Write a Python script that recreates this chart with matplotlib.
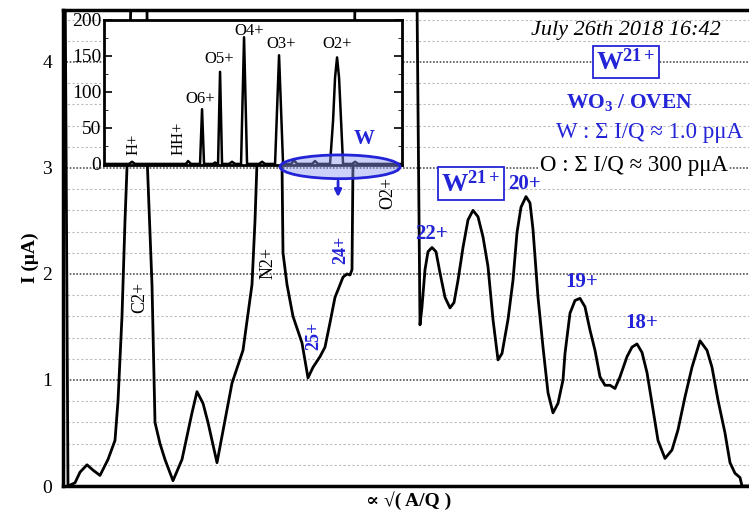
import matplotlib
matplotlib.use("Agg")
import matplotlib.pyplot as plt
from matplotlib.patches import Ellipse

# main spectrum, x in arbitrary units (∝ sqrt(A/Q)), current in µA
x_main = [0.2, 0.5, 1.2, 1.7, 2.4, 3.0, 3.7, 4.5, 5.2, 5.5, 5.9, 6.2, 6.4, 6.8, 7.6,
          8.4, 8.45, 8.9, 9.2, 9.7, 10.2, 11.0, 11.9, 12.9, 13.4, 14.0, 14.5, 15.4,
          16.2, 16.9, 18.0, 18.9, 19.2, 19.4, 20.5, 21.9, 22.0, 22.4, 23.0, 23.9,
          24.5, 25.0, 25.7, 26.2, 26.7, 27.2, 27.5, 28.0, 28.4, 28.7, 28.9, 29.0,
          29.2, 32.5, 35.4, 35.7, 35.9, 36.2, 36.5, 36.9, 37.3, 37.7, 38.2, 38.7,
          39.1, 39.5, 40.0, 40.5, 41.0, 41.5, 42.0, 42.5, 43.0, 43.5, 43.9, 44.5,
          45.0, 45.4, 45.8, 46.3, 46.7, 47.0, 47.5, 48.0, 48.5, 49.0, 49.5, 50.0,
          50.2, 50.7, 51.2, 51.7, 52.2, 52.7, 53.2, 53.7, 54.2, 54.7, 55.2, 55.7,
          56.4, 56.9, 57.4, 57.9, 58.4, 58.9, 59.5, 60.2, 60.9, 61.5, 62.2, 62.9,
          63.7, 64.4, 64.9, 65.5, 66.2, 66.7, 67.2, 67.7, 67.9, 68.6]
i_main = [5.0, 0.0, 0.03, 0.13, 0.20, 0.15, 0.10, 0.25, 0.43, 0.80, 1.60, 2.50, 3.00,
          4.60, 5.50, 4.60, 3.00, 1.90, 0.60, 0.40, 0.25, 0.05, 0.25, 0.69, 0.89,
          0.78, 0.60, 0.22, 0.62, 0.97, 1.28, 1.90, 2.50, 3.05, 4.20, 3.05, 2.20,
          1.90, 1.60, 1.35, 1.02, 1.12, 1.22, 1.31, 1.54, 1.78, 1.85, 1.97, 2.00,
          1.99, 2.04, 3.05, 4.60, 6.00, 4.60, 1.52, 1.69, 2.04, 2.21, 2.25, 2.21,
          2.01, 1.78, 1.68, 1.73, 1.94, 2.25, 2.51, 2.60, 2.54, 2.35, 2.07, 1.57,
          1.19, 1.25, 1.57, 1.94, 2.39, 2.63, 2.73, 2.67, 2.42, 1.78, 1.31, 0.88,
          0.69, 0.78, 1.00, 1.25, 1.63, 1.75, 1.77, 1.69, 1.47, 1.28, 1.03, 0.95,
          0.95, 0.92, 1.03, 1.22, 1.31, 1.34, 1.26, 1.07, 0.78, 0.43, 0.26, 0.34,
          0.53, 0.84, 1.12, 1.37, 1.28, 1.12, 0.81, 0.50, 0.22, 0.12, 0.08, 0.0,
          0.0]

# inset: full spectrum incl. oxygen peaks, current in µA
x_ins = [0, 2.5, 2.8, 3.1, 8.2, 8.4, 8.7, 9.6, 9.8, 10.0, 10.9, 11.1, 11.3, 11.4,
         11.6, 11.8, 12.5, 12.8, 13.1, 13.7, 14.0, 14.3, 15.5, 15.8, 16.1, 17.1,
         17.5, 17.9, 18.7, 19.0, 19.3, 20.8, 21.1, 21.4, 22.6, 22.9, 23.1, 23.3,
         23.5, 23.7, 23.9, 24.8, 25.1, 25.4, 29.8]
i_ins = [0, 0, 3, 0, 0, 4, 0, 0, 76, 0, 0, 2, 0, 0, 128, 0, 0, 3, 0, 0, 176, 0, 0,
         3, 0, 0, 151, 0, 0, 5, 0, 0, 4, 0, 0, 60, 120, 148, 120, 60, 0, 0, 3, 0, 0]
ins_ticks = [0, 50, 100, 150, 200]

# charge state labels (text, x, y)
w_labels = [("22+", 36.9, 2.38), ("20+", 46.2, 2.85), ("19+", 51.9, 1.92),
            ("18+", 57.9, 1.54)]
w_rot_labels = [("25+", 25.1, 1.42), ("24+", 27.8, 2.23)]
rot_labels = [("C2+", 7.7, 1.78), ("N2+", 20.5, 2.10), ("O2+", 32.5, 2.76)]
ins_labels = [("O6+", 9.6, 90), ("O5+", 11.5, 146), ("O4+", 14.5, 185),
              ("O3+", 17.7, 166), ("O2+", 23.3, 166)]
ins_rot_labels = [("H+", 2.9, 12), ("HH+", 7.4, 12)]

BLUE = "#2323d8"
SERIF = ["Liberation Serif", "DejaVu Serif"]

plt.rcParams["font.family"] = SERIF
plt.rcParams["mathtext.fontset"] = "custom"
plt.rcParams["mathtext.rm"] = "Liberation Serif"
plt.rcParams["mathtext.bf"] = "Liberation Serif:bold"
plt.rcParams["mathtext.it"] = "Liberation Serif:italic"

fig = plt.figure(figsize=(7.49, 5.15), dpi=100)
ax = fig.add_axes([0.0841, 0.0563, 0.9159, 0.9243])
ax.plot(x_main, i_main, color="black", lw=2.0, zorder=3, solid_joinstyle="round")
ax.set_xlim(0, 68.6)
ax.set_ylim(0, 4.49)
ax.set_xticks([])
ax.set_yticks([0, 1, 2, 3, 4])
ax.set_yticks([v / 5 for v in range(1, 23)], minor=True)
ax.tick_params(axis="y", which="both", length=0, labelsize=14, pad=8)
ax.grid(axis="y", which="major", color="#555555", lw=1.2, ls=(0, (1, 1)))
ax.grid(axis="y", which="minor", color="#bbbbbb", lw=0.8, ls=(0, (2, 2)))
for s in ["left", "bottom", "top"]:
    ax.spines[s].set_linewidth(2.5)
ax.spines["right"].set_visible(False)

fig.text(0.04, 0.50, "I (μA)", rotation=90, fontsize=14, fontweight="bold",
         ha="center", va="center")
fig.text(0.545, 0.028, "∝ √( A/Q )", fontsize=14, fontweight="bold",
         ha="center", va="center", family=SERIF)

for t, x, y in w_labels:
    ax.text(x, y, t, color=BLUE, fontsize=15, fontweight="bold", ha="center", va="center")
for t, x, y in w_rot_labels:
    ax.text(x, y, t, color=BLUE, fontsize=13, fontweight="bold", rotation=90,
            ha="center", va="center")
for t, x, y in rot_labels:
    ax.text(x, y, t, color="black", fontsize=13, rotation=90, ha="center", va="center")

ax.text(56.25, 4.30, "July 26th 2018 16:42", fontsize=16, style="italic",
        ha="center", va="center")
box = dict(boxstyle="square,pad=0.12", fc="white", ec=BLUE, lw=1.3)
ax.text(56.3, 4.0, r"$\mathbf{W}^{\mathbf{21+}}$", color=BLUE, fontsize=19,
        ha="center", va="center", bbox=box)
ax.text(40.8, 2.85, r"$\mathbf{W}^{\mathbf{21+}}$", color=BLUE, fontsize=19,
        ha="center", va="center", bbox=box)
ax.text(56.7, 3.62, r"WO$_\mathbf{3}$ / OVEN", color=BLUE, fontsize=15.5,
        fontweight="bold", ha="center", va="center")
ax.text(58.7, 3.33, "W : Σ I/Q ≈ 1.0 pμA", color=BLUE, fontsize=16.5,
        ha="center", va="center", family=SERIF)
ax.text(57.1, 3.02, "O : Σ I/Q ≈ 300 pμA", color="black", fontsize=16.5,
        ha="center", va="center", family=SERIF,
        bbox=dict(fc="white", ec="none", pad=1))

# inset
ins = fig.add_axes([0.1389, 0.6796, 0.3979, 0.2816])
ins.plot(x_ins, i_ins, color="black", lw=1.8)
ins.set_xlim(0, 29.8)
ins.set_ylim(-1.5, 200)
ins.set_xticks([])
ins.set_yticks(ins_ticks)
ins.set_yticks(range(0, 201, 25), minor=True)
ins.tick_params(axis="y", which="major", direction="in", length=6, width=1.2,
                right=True, labelsize=14, pad=2)
ins.tick_params(axis="y", which="minor", direction="in", length=3, right=True)
for s in ins.spines.values():
    s.set_linewidth(2.0)
for t, x, y in ins_labels:
    ins.text(x, y, t, fontsize=12, ha="center", va="center")
for t, x, y in ins_rot_labels:
    ins.text(x, y, t, fontsize=12, rotation=90, ha="center", va="bottom")

ins.add_patch(Ellipse((23.6, -4), 12.0, 33, fc=(0.55, 0.6, 0.95, 0.45), ec=BLUE,
                      lw=2.0, clip_on=False, zorder=5))
ins.text(26.0, 35, "W", color=BLUE, fontsize=15, fontweight="bold",
         ha="center", va="center")
ins.annotate("", xy=(23.4, -50), xytext=(23.4, -20), annotation_clip=False,
             arrowprops=dict(arrowstyle="-|>", color=BLUE, lw=2.0, mutation_scale=10))

fig.savefig("out.png", dpi=100)
